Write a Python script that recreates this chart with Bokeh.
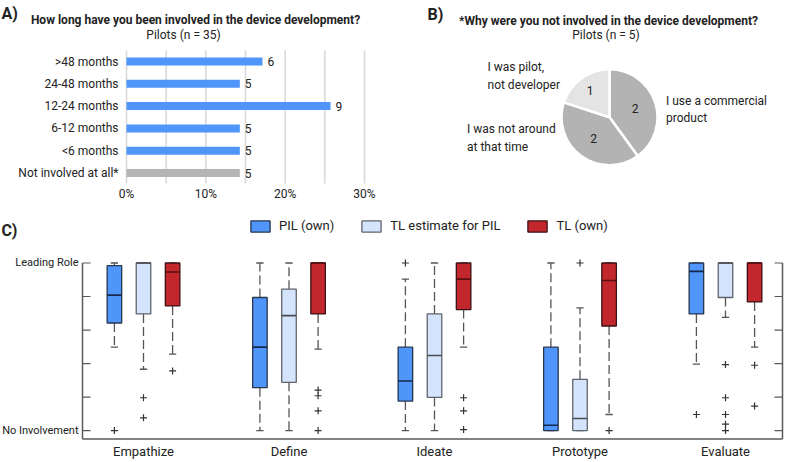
import math
from bokeh.plotting import figure
from bokeh.models import (ColumnDataSource, Range1d, FixedTicker, Label, Legend, LegendItem)
from bokeh.layouts import column, row
from bokeh.embed import file_html
from bokeh.resources import INLINE
from bokeh.core.properties import value

FONT = "Roboto"
TXT = "#222222"

# ---------------- Panel A data ----------------
dur_categories = [">48 months", "24-48 months", "12-24 months", "6-12 months",
                  "<6 months", "Not involved at all*"]
dur_counts = [6, 5, 9, 5, 5, 5]
dur_n = 35
pct_ticks = [0, 10, 20, 30]
pct_minor = [5, 15, 25]
pct_tick_labels = ["0%", "10%", "20%", "30%"]

# ---------------- Panel B data ----------------
reason_labels = ["I use a commercial\nproduct", "I was not around\nat that time",
                 "I was pilot,\nnot developer"]
reason_counts = [2, 2, 1]
reason_n = 5

# ---------------- Panel C data ----------------
phases = ["Empathize", "Define", "Ideate", "Prototype", "Evaluate"]
role_levels = [0, 1, 2, 3, 4, 5]
role_label_levels = [0, 5]
role_labels = ["No Involvement", "Leading Role"]
series_names = ["PIL (own)", "TL estimate for PIL", "TL (own)"]

pil_lower = [2.49, 0.0, 0.0, 0.0, 1.98]
pil_q1 = [3.21, 1.28, 0.88, 0.0, 3.48]
pil_median = [4.04, 2.49, 1.48, 0.16, 4.75]
pil_q3 = [4.92, 3.97, 2.49, 2.49, 5.0]
pil_upper = [5.0, 5.0, 4.52, 5.0, 5.0]
pil_outliers = [[0.0], [], [5.0], [], [0.48]]

tle_lower = [1.83, 0.0, 0.0, 0.0, 3.38]
tle_q1 = [3.48, 1.44, 0.99, 0.0, 3.97]
tle_median = [5.0, 3.43, 2.24, 0.36, 5.0]
tle_q3 = [5.0, 4.22, 3.48, 1.53, 5.0]
tle_upper = [5.0, 5.0, 5.0, 3.66, 5.0]
tle_outliers = [[0.98, 0.38], [], [], [5.0], [1.97, 0.98, 0.48, 0.19, 0.0]]

tl_lower = [2.28, 2.43, 2.49, 0.48, 2.49]
tl_q1 = [3.72, 3.48, 3.61, 3.12, 3.84]
tl_median = [4.73, 5.0, 4.52, 4.48, 5.0]
tl_q3 = [5.0, 5.0, 5.0, 5.0, 5.0]
tl_upper = [5.0, 5.0, 5.0, 5.0, 5.0]
tl_outliers = [[1.78], [1.21, 1.04, 0.59, 0.0], [0.98, 0.59, 0.03], [0.0], [1.95, 0.73]]


def base_fig(w, h, xr, yr, bottom=0):
    p = figure(width=w, height=h, x_range=xr, y_range=yr, output_backend="svg",
               toolbar_location=None, x_axis_location=None, y_axis_location=None,
               min_border=0, min_border_left=0, min_border_right=0, min_border_top=0,
               min_border_bottom=bottom)
    p.title = None
    p.outline_line_color = None
    p.grid.grid_line_color = None
    p.background_fill_color = "white"
    p.border_fill_color = "white"
    return p


def slabel(p, x, y, text, size="12px", bold=False, align="left"):
    p.add_layout(Label(x=x, y=y, x_units="screen", y_units="screen", text=text,
                       text_font=FONT, text_font_size=size,
                       text_font_style="bold" if bold else "normal",
                       text_color=TXT, text_align=align, text_baseline="middle"))


# ======================= Panel A =======================
WA, HA, BA = 420, 203, 20
FA = HA - BA                 # frame height (px) = page y of frame bottom
PX_PCT = 238 / 30            # px per percent
ZERO_PX = 126                # x px of 0 %
ROW_PX = 22.3                # px between bars
TOP_BAR_PX = 61              # y px of first bar
nA = len(dur_categories)
xrA = Range1d(-ZERO_PX / PX_PCT, (WA - ZERO_PX) / PX_PCT)
yrA = Range1d(-(FA - (TOP_BAR_PX + (nA - 1) * ROW_PX)) / ROW_PX, (nA - 1) + TOP_BAR_PX / ROW_PX)
pA = figure(width=WA, height=HA, x_range=xrA, y_range=yrA, output_backend="svg",
            toolbar_location=None, y_axis_location=None,
            min_border=0, min_border_left=0, min_border_right=0, min_border_top=0,
            min_border_bottom=BA)
pA.title = None
pA.outline_line_color = None
pA.grid.grid_line_color = None

ypos = [nA - 1 - i for i in range(nA)]
pcts = [c / dur_n * 100 for c in dur_counts]
colsA = ["#b4b4b4" if cat.startswith("Not involved") else "#4f95fa" for cat in dur_categories]
srcA = ColumnDataSource(dict(cat=dur_categories, y=ypos, pct=pcts,
                             cnt=[str(c) for c in dur_counts], color=colsA))
grid_x = sorted(pct_ticks + pct_minor)
pA.segment(x0=grid_x, y0=[-0.5] * len(grid_x), x1=grid_x, y1=[nA - 0.5] * len(grid_x),
           line_color="#d9d9d9", line_width=1.6)
pA.hbar(y="y", right="pct", left=0, height=0.36, fill_color="color", line_color=None, source=srcA)
pA.text(x="pct", y="y", text="cnt", x_offset=5, text_baseline="middle", text_align="left",
        text_font=value(FONT), text_font_size="12px", text_color=TXT, source=srcA)
pA.text(x=0, y="y", text="cat", x_offset=-8, text_baseline="middle", text_align="right",
        text_font=value(FONT), text_font_size="12px", text_color=TXT, source=srcA)

pA.xaxis.ticker = FixedTicker(ticks=pct_ticks)
pA.xaxis.major_label_overrides = {t: l for t, l in zip(pct_ticks, pct_tick_labels)}
pA.xaxis.axis_line_color = None
pA.xaxis.major_tick_line_color = None
pA.xaxis.minor_tick_line_color = None
pA.xaxis.major_tick_out = 0
pA.xaxis.major_tick_in = 0
pA.xaxis.minor_tick_out = 0
pA.xaxis.minor_tick_in = 0
pA.xaxis.major_label_standoff = 3
pA.xaxis.major_label_text_font = FONT
pA.xaxis.major_label_text_font_size = "12px"
pA.xaxis.major_label_text_color = TXT

slabel(pA, 1, FA - 12.5, "A)", size="16px", bold=True)
slabel(pA, 195, FA - 19.5, "How long have you been involved in the device development?",
       bold=True, align="center")
slabel(pA, 183, FA - 34, "Pilots (n = 35)", align="center")

# ======================= Panel B =======================
WB, HB = 365, HA
FB = HB - BA
pB = base_fig(WB, HB, Range1d(0, WB), Range1d(0, FB), bottom=BA)
cx, cy, r = 189, FB - 116.7, 48
starts, ends, mids = [], [], []
cum = 0
for c in reason_counts:
    a0 = math.pi / 2 - cum / reason_n * 2 * math.pi
    cum += c
    a1 = math.pi / 2 - cum / reason_n * 2 * math.pi
    starts.append(a0)
    ends.append(a1)
    mids.append((a0 + a1) / 2)
colsB = ["#b3b3b3", "#b3b3b3", "#e4e4e4"]
label_r = [0.56, 0.56, 0.69]
srcB = ColumnDataSource(dict(start=starts, end=ends, color=colsB,
                             lx=[cx + f * r * math.cos(m) for f, m in zip(label_r, mids)],
                             ly=[cy + f * r * math.sin(m) for f, m in zip(label_r, mids)],
                             cnt=[str(c) for c in reason_counts]))
pB.wedge(x=cx, y=cy, radius=r, start_angle="start", end_angle="end", direction="clock",
         fill_color="color", line_color="white", line_width=2.5, source=srcB)
pB.text(x="lx", y="ly", text="cnt", text_align="center", text_baseline="middle",
        text_font=value(FONT), text_font_size="12px", text_color=TXT, source=srcB)
label_pos_x = [245.5, 46.5, 67]
label_pos_y = [FB - 109, FB - 137.5, FB - 75.5]
pB.text(x=label_pos_x, y=label_pos_y, text=reason_labels, text_align="left",
        text_baseline="middle", text_font=value(FONT), text_font_size="12px",
        text_color=TXT, text_line_height=1.25)
slabel(pB, 7, FB - 13.5, "B)", size="16px", bold=True)
slabel(pB, 188, FB - 20, "*Why were you not involved in the device development?",
       bold=True, align="center")
slabel(pB, 185.5, FB - 34, "Pilots (n = 5)", align="center")

# ======================= Panel C =======================
TOPC = HA                     # page y of panel C top
WC, BC = 785, 19
HC = 461 - TOPC
FC = HC - BC                  # frame height
GROUP_PX = 145.5              # px between phase groups
FIRST_PX = 143                # x px of first group
LEVEL_PX = 33.8               # px per role level
ZERO_Y = 432 - TOPC           # y px (from panel top) of level 0
AXIS_LEFT = (82 - FIRST_PX) / GROUP_PX
AXIS_RIGHT = (782 - FIRST_PX) / GROUP_PX
BASE_Y = -0.25
TICK_LEN = 8 / GROUP_PX
xrC = Range1d(-FIRST_PX / GROUP_PX, (WC - FIRST_PX) / GROUP_PX)
yrC = Range1d(-(FC - ZERO_Y) / LEVEL_PX, ZERO_Y / LEVEL_PX)
pC = figure(width=WC, height=HC, x_range=xrC, y_range=yrC, output_backend="svg",
            toolbar_location=None, y_axis_location=None,
            min_border=0, min_border_left=0, min_border_right=0, min_border_top=0,
            min_border_bottom=BC)
pC.title = None
pC.outline_line_color = None
pC.grid.grid_line_color = None

AX = "#5a5a5a"
pC.xaxis.ticker = FixedTicker(ticks=list(range(len(phases))))
pC.xaxis.major_label_overrides = {i: ph for i, ph in enumerate(phases)}
pC.xaxis.axis_line_color = None
pC.xaxis.major_tick_line_color = None
pC.xaxis.minor_tick_line_color = None
pC.xaxis.major_tick_out = 0
pC.xaxis.major_tick_in = 0
pC.xaxis.minor_tick_out = 0
pC.xaxis.minor_tick_in = 0
pC.xaxis.major_label_standoff = 3
pC.xaxis.major_label_text_font = FONT
pC.xaxis.major_label_text_font_size = "13px"
pC.xaxis.major_label_text_color = TXT

# axis frame: left, right, bottom lines and inward ticks
top_level = max(role_levels)
pC.segment(x0=[AXIS_LEFT, AXIS_RIGHT, AXIS_LEFT], y0=[BASE_Y, BASE_Y, BASE_Y],
           x1=[AXIS_LEFT, AXIS_RIGHT, AXIS_RIGHT], y1=[top_level, top_level, BASE_Y],
           line_color=AX, line_width=1.5)
pC.segment(x0=[AXIS_LEFT] * len(role_levels), y0=role_levels,
           x1=[AXIS_LEFT + TICK_LEN] * len(role_levels), y1=role_levels,
           line_color=AX, line_width=1.2)
pC.segment(x0=[AXIS_RIGHT - TICK_LEN] * len(role_levels), y0=role_levels,
           x1=[AXIS_RIGHT] * len(role_levels), y1=role_levels,
           line_color=AX, line_width=1.2)
pC.text(x=[AXIS_LEFT] * len(role_label_levels), y=role_label_levels, text=role_labels,
        x_offset=-4, text_align="right", text_baseline="middle",
        text_font=value(FONT), text_font_size="11px", text_color=TXT)

series = [
    (pil_lower, pil_q1, pil_median, pil_q3, pil_upper, pil_outliers, -0.2,
     "#4f95fa", "#26364d", "#14294d"),
    (tle_lower, tle_q1, tle_median, tle_q3, tle_upper, tle_outliers, 0.0,
     "#d4e4fc", "#5f636b", "#4a4d52"),
    (tl_lower, tl_q1, tl_median, tl_q3, tl_upper, tl_outliers, 0.2,
     "#c1272d", "#3d1214", "#5c0d10"),
]
BW, CW = 0.1, 0.025
legend_items = []
for name, (lo, q1, med, q3, up, outl, off, fill, edge, medc) in zip(series_names, series):
    xs = [i + off for i in range(len(phases))]
    src = ColumnDataSource(dict(x=xs, x0=[x - BW / 2 for x in xs], x1=[x + BW / 2 for x in xs],
                                c0=[x - CW for x in xs], c1=[x + CW for x in xs],
                                lo=lo, q1=q1, med=med, q3=q3, up=up))
    pC.segment(x0="x", y0="q3", x1="x", y1="up", line_color="#555555", line_width=1.3,
               line_dash="9 4", source=src)
    pC.segment(x0="x", y0="q1", x1="x", y1="lo", line_color="#555555", line_width=1.3,
               line_dash="9 4", source=src)
    pC.segment(x0="c0", y0="up", x1="c1", y1="up", line_color="#555555", line_width=1.3, source=src)
    pC.segment(x0="c0", y0="lo", x1="c1", y1="lo", line_color="#555555", line_width=1.3, source=src)
    box = pC.vbar(x="x", width=BW, bottom="q1", top="q3", fill_color=fill, line_color=edge,
                  line_width=1.3, source=src)
    pC.segment(x0="x0", y0="med", x1="x1", y1="med", line_color=medc, line_width=1.6, source=src)
    ox, oy = [], []
    for i, vals in enumerate(outl):
        for v in vals:
            ox.append(i + off)
            oy.append(v)
    pC.scatter(x=ox, y=oy, marker="cross", size=7, line_color="#333333", line_width=1.2)
    legend_items.append(LegendItem(label=name, renderers=[box]))

legend = Legend(items=legend_items, location=(248, FC - (235 - TOPC)), orientation="horizontal",
                glyph_width=24, glyph_height=14, label_height=14, label_width=10,
                label_standoff=7, spacing=25, padding=0, margin=0,
                border_line_color=None, background_fill_alpha=0,
                label_text_font=FONT, label_text_font_size="13px", label_text_color=TXT)
pC.add_layout(legend)
slabel(pC, 1, FC - (232 - TOPC), "C)", size="16px", bold=True)

layout = column(row(pA, pB), pC)
open("out.html", "w").write(file_html(layout, INLINE))
